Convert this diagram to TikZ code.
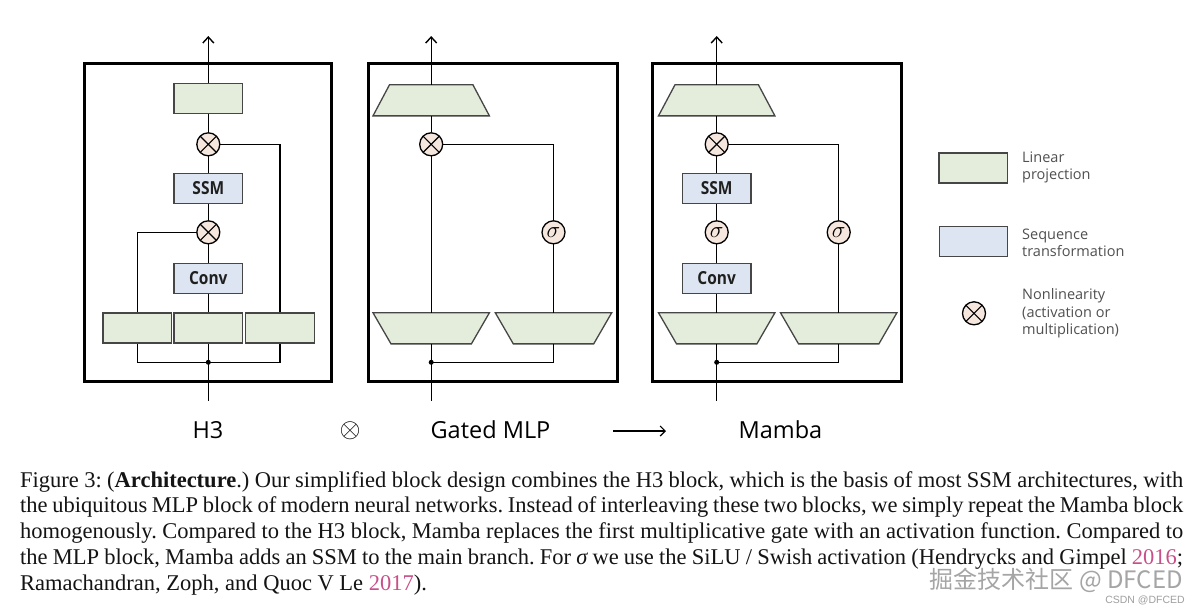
\RequirePackage{fix-cm}
\documentclass[tikz,border=0pt]{standalone}
\usepackage{fontspec}
\setmainfont{Liberation Serif}
\newfontfamily\diagfont{Open Sans}
\newfontfamily\condfont[FakeStretch=0.86]{Open Sans}
\newfontfamily\cjk{Noto Sans CJK SC}
\newfontfamily\wmfont{Liberation Sans}
\usetikzlibrary{arrows.meta}
\definecolor{linfill}{RGB}{228,237,219}
\definecolor{seqfill}{RGB}{222,229,242}
\definecolor{nlfill}{RGB}{245,231,222}
\definecolor{boxdraw}{RGB}{70,70,70}
\definecolor{legtext}{RGB}{80,80,80}
\definecolor{citecol}{RGB}{200,80,138}
\definecolor{wmgray}{RGB}{165,165,165}
\tikzset{
  blockbox/.style={draw=black, line width=3pt, minimum height=318.4pt, inner sep=0pt},
  linbox/.style={draw=boxdraw, fill=linfill, line width=1.3pt, minimum width=68.5pt, minimum height=30pt, inner sep=0pt},
  seqbox/.style={draw=boxdraw, fill=seqfill, line width=1.3pt, minimum width=68.5pt, minimum height=30pt, inner sep=0pt,
    font=\condfont\bfseries\fontsize{18}{18}\selectfont, text=black!88},
  trapholder/.style={rectangle, minimum width=116pt, minimum height=30.7pt, inner sep=0pt},
  trapline/.style={draw=boxdraw, fill=linfill, line width=1.3pt, line join=miter},
  conn/.style={line width=1.4pt, draw=black},
  mulnode/.style={circle, draw=black, line width=1.3pt, fill=nlfill, minimum size=23pt, inner sep=0pt,
    path picture={\draw[line width=1.1pt]
      ([shift={(45:11.5pt)}]path picture bounding box.center) -- ([shift={(225:11.5pt)}]path picture bounding box.center)
      ([shift={(135:11.5pt)}]path picture bounding box.center) -- ([shift={(-45:11.5pt)}]path picture bounding box.center);}},
  signode/.style={circle, draw=black, line width=1.3pt, fill=nlfill, minimum size=23pt, inner sep=0pt,
    font=\fontsize{23}{23}\selectfont},
  junction/.style={circle, fill=black, minimum size=5pt, inner sep=0pt},
  outarrow/.style={conn, -{Straight Barb[length=6pt,width=11pt]}},
  title/.style={font=\diagfont\fontsize{23.5}{23.5}\selectfont, anchor=base, inner sep=0pt},
  legtxt/.style={font=\diagfont\fontsize{14.5}{17.5}\selectfont, text=legtext, align=left, anchor=west, inner sep=0pt},
  capline/.style={anchor=base west, inner sep=0pt, font=\frenchspacing\fontsize{22.5}{25.8}\selectfont, text=black!92},
}
\newcommand\drawtrapup[1]{\draw[trapline] ([xshift=16.5pt]#1.north west) -- ([xshift=-16.5pt]#1.north east) -- (#1.south east) -- (#1.south west) -- cycle;}
\newcommand\drawtrapdown[1]{\draw[trapline] (#1.north west) -- (#1.north east) -- ([xshift=-18pt]#1.south east) -- ([xshift=18pt]#1.south west) -- cycle;}
\begin{document}
\begin{tikzpicture}[x=1pt,y=-1pt]
\useasboundingbox[fill=white] (0,0) rectangle (1200,611);

% ---------------- H3 block ----------------
\node[blockbox, minimum width=247.7pt] (h3box) at (207.85,222.5) {};
\node[linbox] (hlin) at (208.3,98.3) {};
\node[mulnode] (hmul1) at (208.3,144.3) {};
\node[seqbox] (hssm) at (208.3,188.3) {SSM};
\node[mulnode] (hmul2) at (208.3,232.3) {};
\node[seqbox] (hconv) at (208.3,278.3) {Conv};
\node[linbox] (hbl) at (137.3,328) {};
\node[linbox] (hbm) at (208.3,328) {};
\node[linbox] (hbr) at (280,328) {};
\node[junction] (hdot) at (208.3,362.3) {};
\coordinate (hin) at (208.3,400.7);
\coordinate (hout) at (208.3,36);
\draw[conn] (hin) -- (hdot.center) -- (hbm.south);
\draw[conn] (hdot.center) -| (hbl.south);
\draw[conn] (hdot.center) -| (hbr.south);
\draw[conn] (hbm.north) -- (hconv.south);
\draw[conn] (hconv.north) -- (hmul2.south);
\draw[conn] (hmul2.north) -- (hssm.south);
\draw[conn] (hssm.north) -- (hmul1.south);
\draw[conn] (hmul1.north) -- (hlin.south);
\draw[outarrow] (hlin.north) -- (hout);
\draw[conn] (hbl.north) |- (hmul2.west);
\draw[conn] (hbr.north) |- (hmul1.east);

% ---------------- Gated MLP block ----------------
\node[blockbox, minimum width=249pt] (gbox) at (492.8,222.5) {};
\node[trapholder] (gtop) at (431.2,100.3) {};
\drawtrapup{gtop}
\node[mulnode] (gmul) at (431.2,144.3) {};
\node[signode] (gsig) at (553.5,232.3) {$\sigma$};
\node[trapholder] (gbl) at (431.2,328.3) {};
\drawtrapdown{gbl}
\node[trapholder] (gbr) at (553.5,328.3) {};
\drawtrapdown{gbr}
\node[junction] (gdot) at (431.2,362.3) {};
\coordinate (gin) at (431.2,400.7);
\coordinate (gout) at (431.2,36);
\draw[conn] (gin) -- (gdot.center) -- (gbl.south);
\draw[conn] (gdot.center) -| (gbr.south);
\draw[conn] (gbl.north) -- (gmul.south);
\draw[conn] (gmul.north) -- (gtop.south);
\draw[outarrow] (gtop.north) -- (gout);
\draw[conn] (gbr.north) -- (gsig.south);
\draw[conn] (gsig.north) |- (gmul.east);

% ---------------- Mamba block ----------------
\node[blockbox, minimum width=248.3pt] (mbox) at (776.85,222.5) {};
\node[trapholder] (mtop) at (716.7,100.3) {};
\drawtrapup{mtop}
\node[mulnode] (mmul) at (716.7,144.3) {};
\node[seqbox] (mssm) at (716.7,188.3) {SSM};
\node[signode] (msig1) at (716.7,232.3) {$\sigma$};
\node[seqbox] (mconv) at (716.7,278.3) {Conv};
\node[trapholder] (mbl) at (716.7,328.3) {};
\drawtrapdown{mbl}
\node[trapholder] (mbr) at (838.7,328.3) {};
\drawtrapdown{mbr}
\node[signode] (msig2) at (838.7,232.3) {$\sigma$};
\node[junction] (mdot) at (716.7,362.3) {};
\coordinate (min) at (716.7,400.7);
\coordinate (mout) at (716.7,36);
\draw[conn] (min) -- (mdot.center) -- (mbl.south);
\draw[conn] (mdot.center) -| (mbr.south);
\draw[conn] (mbl.north) -- (mconv.south);
\draw[conn] (mconv.north) -- (msig1.south);
\draw[conn] (msig1.north) -- (mssm.south);
\draw[conn] (mssm.north) -- (mmul.south);
\draw[conn] (mmul.north) -- (mtop.south);
\draw[outarrow] (mtop.north) -- (mout);
\draw[conn] (mbr.north) -- (msig2.south);
\draw[conn] (msig2.north) |- (mmul.east);

% ---------------- titles ----------------
\node[title] (th3) at (208,438.5) {H3};
\node[inner sep=0pt, font=\fontsize{27}{27}\selectfont] (tot) at (350,431) {$\otimes$};
\node[title] (tg) at (490.5,438.5) {Gated MLP};
\node[title] (tm) at (780.5,438.5) {Mamba};
\coordinate (ara) at (613,431);
\coordinate (arb) at (666,431);
\draw[line width=1.2pt, -{Straight Barb[length=5pt,width=10pt]}] (ara) -- (arb);

% ---------------- legend ----------------
\node[linbox] (leglin) at (973.3,168) {};
\node[legtxt] (leglint) at (1022,167.5) {Linear\\projection};
\node[seqbox] (legseq) at (973.5,241.3) {};
\node[legtxt] (legseqt) at (1022,243) {Sequence\\transformation};
\node[mulnode] (legnl) at (974,313.3) {};
\node[legtxt] (legnlt) at (1022,313.5) {Nonlinearity\\(activation or\\multiplication)};

% ---------------- caption ----------------
\node[capline] (cap1) at (20,487) {\makebox[1163pt][s]{Figure 3: (\textbf{Architecture}.) Our simplified block design combines the H3 block, which is the basis of most SSM architectures, with}};
\node[capline] (cap2) at (20,512.8) {\makebox[1163pt][s]{the ubiquitous MLP block of modern neural networks. Instead of interleaving these two blocks, we simply repeat the Mamba block}};
\node[capline] (cap3) at (20,538.6) {\makebox[1163pt][s]{homogenously. Compared to the H3 block, Mamba replaces the first multiplicative gate with an activation function. Compared to}};
\node[capline] (cap4) at (20,564.4) {\makebox[1163pt][s]{the MLP block, Mamba adds an SSM to the main branch. For {\itshape σ} we use the SiLU / Swish activation (Hendrycks and Gimpel \textcolor{citecol}{2016};}};
\node[capline] (cap5) at (20,590.2) {Ramachandran, Zoph, and Quoc V Le \textcolor{citecol}{2017}).};

% ---------------- watermark ----------------
\node[anchor=east, inner sep=0pt, text=wmgray, font=\cjk\fontsize{24}{24}\selectfont] (wm1) at (1183,580) {掘金技术社区 @ DFCED};
\node[anchor=east, inner sep=0pt, text=gray!75, font=\wmfont\fontsize{10.5}{10.5}\selectfont] (wm2) at (1185,600) {CSDN @DFCED};
\end{tikzpicture}
\end{document}
